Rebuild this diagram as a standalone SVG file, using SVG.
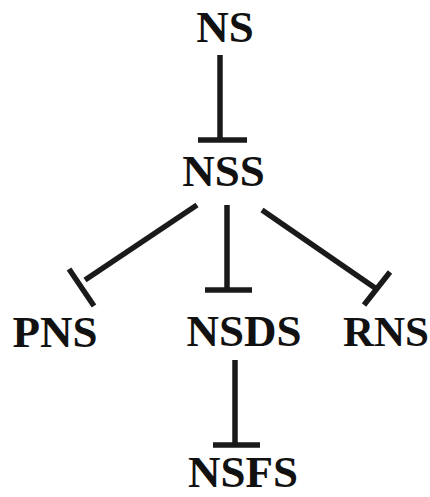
<svg xmlns="http://www.w3.org/2000/svg" width="430" height="497" viewBox="0 0 430 497">
<style>
text{font-family:"Liberation Serif","Times New Roman",serif;font-weight:bold;font-size:45px;fill:#111;text-anchor:middle}
.c line{stroke:#1a1a1a;stroke-width:5.5;stroke-linecap:butt}
</style>
<rect width="430" height="497" fill="#fff"/>
<g id="NS"><text x="225" y="42">NS</text></g>
<g id="NSS"><text x="223.5" y="186">NSS</text></g>
<g id="PNS"><text x="55" y="347">PNS</text></g>
<g id="NSDS"><text x="244" y="346">NSDS</text></g>
<g id="RNS"><text x="343" y="346" style="text-anchor:start;font-size:43px">RNS</text></g>
<g id="NSFS"><text x="243" y="487">NSFS</text></g>
<g class="c" id="connectors">
<line x1="220" y1="55" x2="220" y2="140"/>
<line x1="198" y1="140" x2="247" y2="140"/>
<line x1="197" y1="205" x2="85" y2="280"/>
<line x1="69" y1="269" x2="94" y2="306"/>
<line x1="227" y1="205" x2="227" y2="290"/>
<line x1="205" y1="290" x2="252" y2="290"/>
<line x1="262" y1="210" x2="378" y2="290"/>
<line x1="364" y1="305" x2="390" y2="272"/>
<line x1="235" y1="360" x2="235" y2="445"/>
<line x1="213" y1="445" x2="260" y2="445"/>
</g>
</svg>
